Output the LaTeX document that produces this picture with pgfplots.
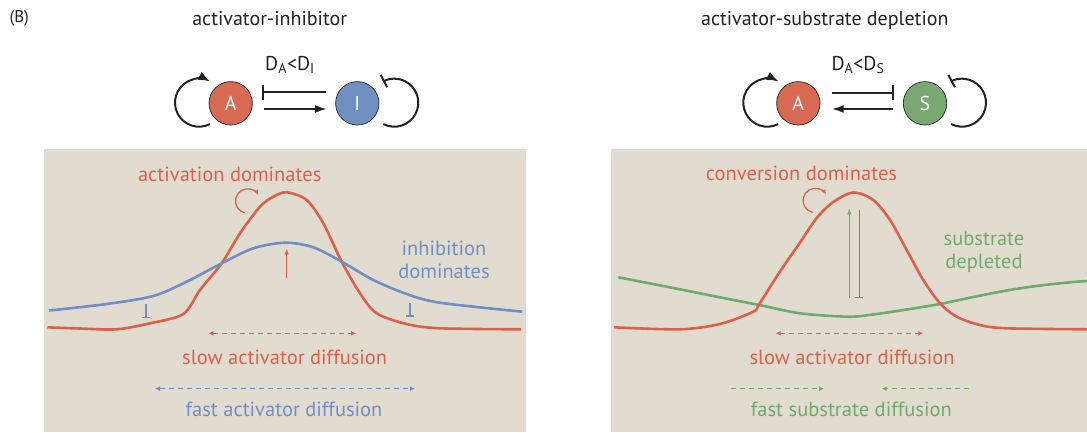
\documentclass[border=0pt]{standalone}
\usepackage{pgfplots}
\pgfplotsset{compat=1.18}
\usepackage{fontspec}
\setmainfont{PT Sans}
\usetikzlibrary{arrows.meta}
\definecolor{bg}{HTML}{E2DCD0}
\definecolor{cred}{HTML}{DB614B}
\definecolor{cblue}{HTML}{6F8FC6}
\definecolor{cgreen}{HTML}{6EAB6E}
\definecolor{fred}{HTML}{D86A54}
\definecolor{fblue}{HTML}{7090C2}
\definecolor{fgreen}{HTML}{79A872}
\definecolor{dark}{HTML}{222222}
\newcommand{\fs}[1]{\fontsize{#1}{#1}\selectfont}
\begin{document}
\begin{tikzpicture}
\begin{axis}[
  width=1087pt, height=432pt, scale only axis,
  xmin=0, xmax=1087, ymin=0, ymax=432, y dir=reverse,
  hide axis, clip=false,
]
% panel backgrounds
\fill[bg] (axis cs:44,149) rectangle (axis cs:526,432);
\fill[bg] (axis cs:611,149) rectangle (axis cs:1087,432);

% ---------------- left panel curves
\addplot[cred, line width=2.6pt, smooth] coordinates {
(47.3,327.3) (80,328.5) (116.7,329.3) (150,323.3) (183.3,314) (200,290)
(221.7,263.3) (240,233.3) (260,206.7) (273.3,196.7) (286.7,192.3) (306.7,200)
(323.3,223.3) (341.7,261.7) (360,293.3) (376.7,313.3) (406.7,324) (440,328.3) (521,329.3)};
\addplot[cblue, line width=2.6pt, smooth] coordinates {
(49.3,310.5) (106.7,304) (153.3,296) (186.7,281.7) (221.7,263.3) (253.3,248.3)
(285,242.7) (313.3,247.3) (341.7,261.7) (373.3,280) (406.7,294) (440,302.7) (522.3,311.7)};

% ---------------- right panel curves
\addplot[cgreen, line width=2.6pt, smooth] coordinates {
(618.3,277.3) (666.7,286.7) (716.7,296.7) (759.3,305) (800,313.3) (848,316.7)
(873,314.5) (906.7,309.5) (940,304) (973.3,297) (1006.7,290.5) (1040,285.5) (1073.3,282) (1087,281)};
\addplot[cred, line width=2.6pt, smooth] coordinates {
(614,327.3) (680,329.3) (720,324) (753.3,311.7) (759.3,304) (780,271.5) (800,242.5)
(816.7,218) (833.3,202) (853.3,192.5) (873.3,200) (890,220) (906.7,250) (923.3,280)
(940,303.3) (956.7,316.7) (980,325) (1006.7,328.3) (1087,329.3)};

% ---------------- small arrows in panels
\draw[cred, line width=1.4pt, -{Latex[length=6pt,width=4.5pt]}] (axis cs:286.7,278.3) -- (axis cs:286.7,248.3);
\draw[cblue, line width=1.4pt, -{Bar[width=8pt]}] (axis cs:146,304.3) -- (axis cs:146,318.3);
\draw[cblue, line width=1.4pt, -{Bar[width=8pt]}] (axis cs:410,303.3) -- (axis cs:410,316.5);
\draw[cgreen, line width=1.6pt, -{Latex[length=6pt,width=4.5pt]}] (axis cs:849.3,298.3) -- (axis cs:849.3,208.3);
\draw[cred, line width=1.6pt, -{Bar[width=8pt]}] (axis cs:859.3,210) -- (axis cs:859.3,298.3);

% curly arrows
\draw[cred, line width=1.3pt, -{Latex[length=5pt,width=4.5pt]}] (axis cs:247.7,201) ++(-103:12.2pt) arc[start angle=-103, end angle=-331, radius=12.2pt];
\draw[cred, line width=1.3pt, -{Latex[length=5pt,width=4.5pt]}] (axis cs:815.3,200.5) ++(-103:12.2pt) arc[start angle=-103, end angle=-331, radius=12.2pt];

% dashed diffusion arrows
\draw[cred, line width=1.2pt, dash pattern=on 5pt off 4pt, {Latex[length=5pt,width=5pt]}-{Latex[length=5pt,width=5pt]}] (axis cs:208.3,333.3) -- (axis cs:356,333.3);
\draw[cblue, line width=1.2pt, dash pattern=on 5pt off 4pt, {Latex[length=5pt,width=5pt]}-{Latex[length=5pt,width=5pt]}] (axis cs:155,388.7) -- (axis cs:415,388.7);
\draw[cred, line width=1.2pt, dash pattern=on 5pt off 4pt, {Latex[length=5pt,width=5pt]}-{Latex[length=5pt,width=5pt]}] (axis cs:775.7,333.3) -- (axis cs:923.3,333.3);
\draw[cgreen, line width=1.2pt, dash pattern=on 5pt off 4pt, -{Latex[length=5pt,width=5pt]}] (axis cs:731,388.7) -- (axis cs:824,388.7);
\draw[cgreen, line width=1.2pt, dash pattern=on 5pt off 4pt, -{Latex[length=5pt,width=5pt]}] (axis cs:969.3,388.7) -- (axis cs:881.7,388.7);

% panel texts
\node[anchor=base, text=cred, font=\fs{20.5}] at (axis cs:229.7,181) {activation dominates};
\node[anchor=base, text=cblue, font=\fs{20.5}] at (axis cs:444,255) {inhibition};
\node[anchor=base, text=cblue, font=\fs{20.5}] at (axis cs:444,278.3) {dominates};
\node[anchor=base, text=cred, font=\fs{20.5}] at (axis cs:284.7,364.3) {slow activator diffusion};
\node[anchor=base, text=cblue, font=\fs{20.5}] at (axis cs:284,416.7) {fast activator diffusion};
\node[anchor=base, text=cred, font=\fs{20.5}] at (axis cs:801.5,180.7) {conversion dominates};
\node[anchor=base, text=cgreen, font=\fs{20.5}] at (axis cs:984,245) {substrate};
\node[anchor=base, text=cgreen, font=\fs{20.5}] at (axis cs:984,268.3) {depleted};
\node[anchor=base, text=cred, font=\fs{20.5}] at (axis cs:852,364.3) {slow activator diffusion};
\node[anchor=base, text=cgreen, font=\fs{20.5}] at (axis cs:851.3,416.7) {fast substrate diffusion};

% titles
\node[anchor=base west, text=dark, font=\fs{17}] at (axis cs:6,22) {(B)};
\node[anchor=base, text=dark, font=\fs{20}] at (axis cs:269.7,25) {activator-inhibitor};
\node[anchor=base, text=dark, font=\fs{20}] at (axis cs:824.8,25) {activator-substrate depletion};
\node[anchor=base, text=dark, font=\fs{20}] at (axis cs:290,70) {D\textsubscript{A}<D\textsubscript{I}};
\node[anchor=base, text=dark, font=\fs{20}] at (axis cs:858,70) {D\textsubscript{A}<D\textsubscript{S}};

% ---------------- network diagrams
\draw[dark, line width=2pt, -{Latex[length=12pt,width=9pt]}] (axis cs:199,102.7) ++(-63:24pt) arc[start angle=-63, end angle=-298, radius=24pt];
\draw[dark, line width=2pt, -{Bar[width=14pt]}] (axis cs:394.3,102.7) ++(-117:24pt) arc[start angle=-117, end angle=118, radius=24pt];
\draw[dark, line width=2pt, -{Bar[width=15pt]}] (axis cs:326,92.3) -- (axis cs:262.3,92.3);
\draw[dark, line width=2pt, -{Latex[length=12pt,width=8pt]}] (axis cs:264,109) -- (axis cs:327,109);
\draw[draw=dark, fill=fred, line width=0.7pt] (axis cs:230.7,103.3) circle[radius=21.7pt];
\draw[draw=dark, fill=fblue, line width=0.7pt] (axis cs:357.3,103.3) circle[radius=21.7pt];
\node[text=white, font=\fs{20}] at (axis cs:230.7,103.3) {A};
\node[text=white, font=\fs{20}] at (axis cs:357.3,103.3) {I};

\draw[dark, line width=2pt, -{Latex[length=12pt,width=9pt]}] (axis cs:767.3,102.7) ++(-63:24pt) arc[start angle=-63, end angle=-298, radius=24pt];
\draw[dark, line width=2pt, -{Bar[width=14pt]}] (axis cs:962,102.7) ++(-117:24pt) arc[start angle=-117, end angle=118, radius=24pt];
\draw[dark, line width=2pt, -{Bar[width=15pt]}] (axis cs:831.7,92.7) -- (axis cs:894,92.7);
\draw[dark, line width=2pt, -{Latex[length=12pt,width=8pt]}] (axis cs:893.3,109) -- (axis cs:831.7,109);
\draw[draw=dark, fill=fred, line width=0.7pt] (axis cs:798.3,103.3) circle[radius=21.7pt];
\draw[draw=dark, fill=fgreen, line width=0.7pt] (axis cs:925,103.3) circle[radius=21.7pt];
\node[text=white, font=\fs{20}] at (axis cs:798.3,103.3) {A};
\node[text=white, font=\fs{20}] at (axis cs:925,103.3) {S};
\end{axis}
\pgfresetboundingbox
\useasboundingbox (0,0) rectangle (1087pt,432pt);
\end{tikzpicture}
\end{document}
